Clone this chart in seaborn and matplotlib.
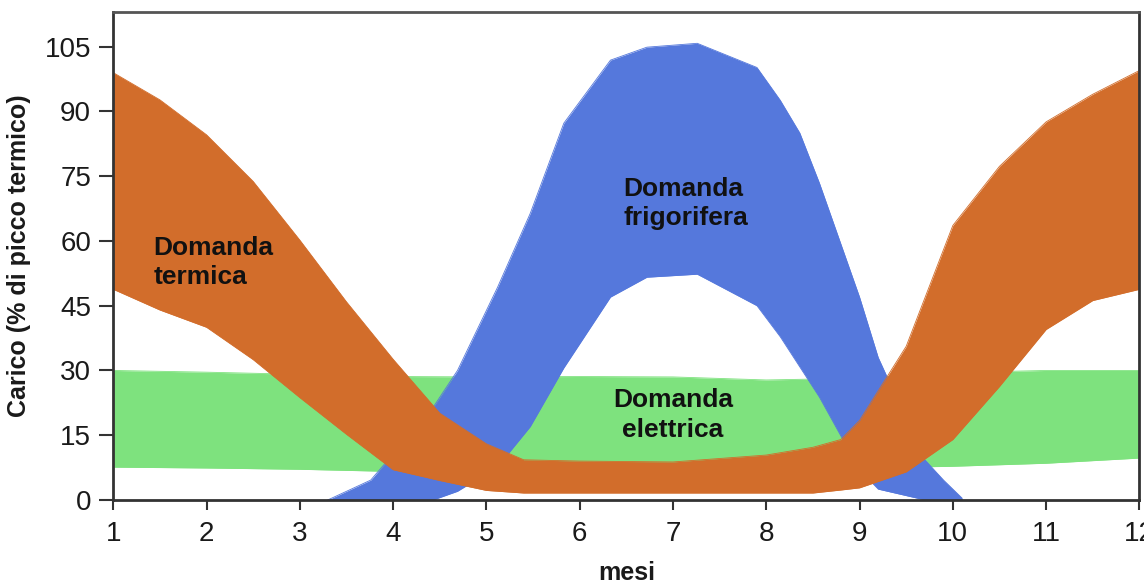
import matplotlib
matplotlib.use("Agg")
import matplotlib.pyplot as plt
import seaborn as sns

# months (x) and band edges, % of thermal peak
elec_x = [1, 2, 3, 4, 5, 6, 7, 8, 9, 10, 11, 12]
elec_top = [30, 29.6, 29.1, 28.6, 28.5, 28.6, 28.5, 27.8, 28.2, 29.5, 30, 30]
elec_bot = [7.6, 7.4, 7.1, 6.6, 6.6, 6.8, 7, 7.2, 7.4, 7.8, 8.5, 9.7]

cool_x = [3.3, 3.76, 4.43, 4.69, 5.12, 5.47, 5.83, 6.33, 6.72, 7.26, 7.9, 8.15,
          8.36, 8.57, 9.0, 9.2, 9.7, 9.9, 10.1]
cool_top = [0, 4.6, 21.5, 30, 49.3, 66.4, 87.3, 101.9, 104.9, 105.8, 100.2, 92.6,
            85, 73.4, 47, 33, 9.3, 4.6, 0.4]
cool_bot = [0, 0, 0, 2, 7.7, 17, 30.6, 47, 51.6, 52.3, 45, 37.8,
            30.8, 23.8, 7, 2.5, 0, 0, 0]

therm_x = [1, 1.5, 2, 2.5, 3, 3.5, 4, 4.5, 5, 5.4, 6, 7, 8, 8.5, 8.8, 9,
           9.5, 10, 10.5, 11, 11.5, 12]
therm_top = [99, 92.7, 84.6, 73.8, 60.2, 45.9, 32.6, 20.1, 13, 9.3, 9, 8.8, 10.4,
             12.2, 14, 18.4, 35.6, 63.6, 77.3, 87.6, 94, 99.5]
therm_bot = [48.8, 44, 40, 32.5, 23.7, 15.2, 7, 4.5, 2.2, 1.6, 1.6, 1.6, 1.6,
             1.6, 2.3, 2.8, 6.5, 14, 26.3, 39.5, 46.2, 48.8]

x_ticks = list(range(1, 13))
y_ticks = [0, 15, 30, 45, 60, 75, 90, 105]

GREEN = "#7ee27e"
BLUE = "#5578dc"
ORANGE = "#d26d2b"

sns.set_theme(style="ticks")
plt.rcParams["font.family"] = ["Liberation Sans", "DejaVu Sans"]

fig, ax = plt.subplots(figsize=(11.44, 5.82), dpi=100)
fig.subplots_adjust(left=0.099, right=0.996, bottom=0.141, top=0.979)

bands = [
    (elec_x, elec_top, elec_bot, GREEN),
    (cool_x, cool_top, cool_bot, BLUE),
    (therm_x, therm_top, therm_bot, ORANGE),
]
for i, (xs, top, bot, col) in enumerate(bands):
    z = 1 + i
    ax.fill_between(xs, bot, top, color=col, lw=0, zorder=z)
    sns.lineplot(x=xs, y=top, color=col, lw=0.6, ax=ax, zorder=z)
    sns.lineplot(x=xs, y=bot, color=col, lw=0.6, ax=ax, zorder=z)

txt = dict(fontsize=19, fontweight="bold", color="#111111", linespacing=1.3, zorder=10)
ax.text(1.43, 55, "Domanda\ntermica", ha="left", va="center", **txt)
ax.text(7.14, 68.7, "Domanda\nfrigorifera", ha="center", va="center",
        multialignment="left", **txt)
ax.text(7.0, 19.7, "Domanda\nelettrica", ha="center", va="center", **txt)

ax.set_xlim(1, 12)
ax.set_ylim(0, 113)
ax.set_xticks(x_ticks)
ax.set_yticks(y_ticks)
ax.tick_params(axis="x", labelsize=20, length=7, width=1.5, pad=8,
               color="#333333", labelcolor="#1a1a1a")
ax.tick_params(axis="y", labelsize=20, length=10, width=1.5, pad=6,
               color="#333333", labelcolor="#1a1a1a")

ax.set_xlabel("mesi", fontsize=18, fontweight="bold", labelpad=10, color="#1a1a1a")
ax.set_ylabel("Carico (% di picco termico)", fontsize=18, fontweight="bold",
              labelpad=10, color="#1a1a1a")

for side in ["left", "right", "top", "bottom"]:
    ax.spines[side].set_visible(True)
    ax.spines[side].set_linewidth(2)
    ax.spines[side].set_color("#333333")
    ax.spines[side].set_zorder(12)
ax.spines["top"].set_color("#555555")

fig.savefig("out.png", dpi=100)
